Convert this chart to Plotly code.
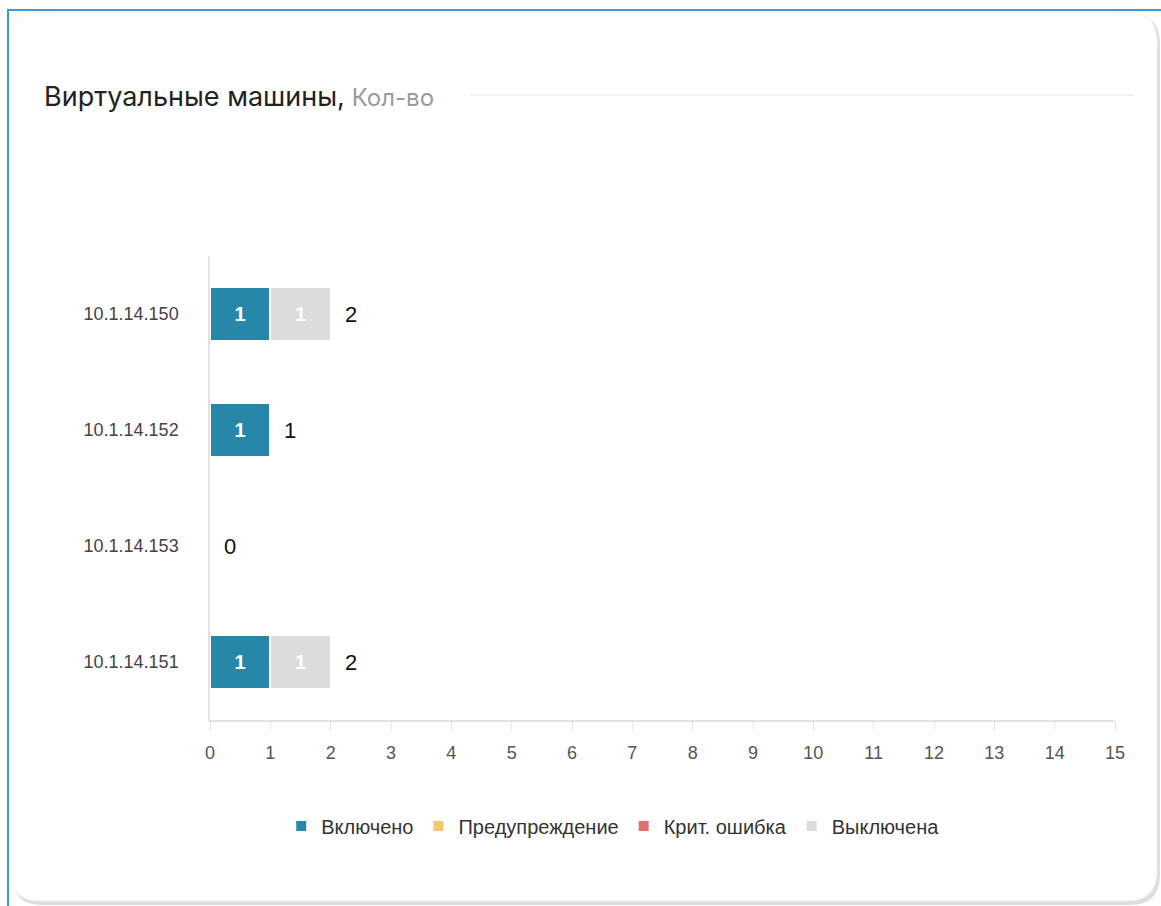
import plotly.graph_objects as go

hosts = ["10.1.14.150", "10.1.14.152", "10.1.14.153", "10.1.14.151"]
series_names = ["Включено", "Предупреждение", "Крит. ошибка", "Выключена"]
vals_on = [1, 1, 0, 1]
vals_warn = [0, 0, 0, 0]
vals_crit = [0, 0, 0, 0]
vals_off = [1, 0, 0, 1]
x_ticks = list(range(0, 16))
colors = ["#2787a9", "#f6c56f", "#e0706b", "#dcdcdc"]

W, H = 1161, 906
L, R, T, B = 210, 1115, 256, 720

def px(x):
    return (x - L) / (R - L)

def py(y):
    return (B - y) / (B - T)

fig = go.Figure()
all_vals = [vals_on, vals_warn, vals_crit, vals_off]
for name, vals, col in zip(series_names, all_vals, colors):
    fig.add_trace(go.Bar(
        y=hosts, x=vals, name=name, orientation="h",
        marker=dict(color=col, line=dict(color="white", width=2)),
        text=[str(v) if v > 0 else "" for v in vals],
        textposition="inside", insidetextanchor="middle",
        textfont=dict(color="white", size=20, family="Liberation Sans"),
        texttemplate="<b>%{text}</b>",
        width=0.47, hoverinfo="x+y+name",
    ))

totals = [a + b + c + d for a, b, c, d in zip(*all_vals)]
annotations = []
for h, t in zip(hosts, totals):
    annotations.append(dict(
        x=t, y=h, xref="x", yref="y", text=str(t), showarrow=False,
        xanchor="left", yanchor="middle", xshift=12,
        font=dict(size=22, color="#111", family="Liberation Sans"),
    ))

shapes = []
def rrect(x0, y0, x1, y1, r):
    return (f"M {px(x0+r)},{py(y0)} L {px(x1-r)},{py(y0)} "
            f"Q {px(x1)},{py(y0)} {px(x1)},{py(y0+r)} "
            f"L {px(x1)},{py(y1-r)} Q {px(x1)},{py(y1)} {px(x1-r)},{py(y1)} "
            f"L {px(x0+r)},{py(y1)} Q {px(x0)},{py(y1)} {px(x0)},{py(y1-r)} "
            f"L {px(x0)},{py(y0+r)} Q {px(x0)},{py(y0)} {px(x0+r)},{py(y0)} Z")

shapes.append(dict(type="path", xref="paper", yref="paper", layer="below",
                   path=rrect(12, 14, 1160, 905, 30),
                   fillcolor="#dedede", line=dict(width=0)))
shapes.append(dict(type="path", xref="paper", yref="paper", layer="below",
                   path=rrect(10, 12, 1157, 901, 30),
                   fillcolor="white", line=dict(color="#f0f0f0", width=1)))
shapes.append(dict(type="line", xref="paper", yref="paper",
                   x0=px(8), x1=px(8), y0=py(9), y1=py(906),
                   line=dict(color="#3a9ad9", width=2)))
shapes.append(dict(type="line", xref="paper", yref="paper",
                   x0=px(8), x1=px(1161), y0=py(10), y1=py(10),
                   line=dict(color="#3a9ad9", width=2)))
shapes.append(dict(type="line", xref="paper", yref="paper",
                   x0=px(470), x1=px(1135), y0=py(95), y1=py(95),
                   line=dict(color="#ececec", width=1.5)))

fig.update_layout(
    width=W, height=H,
    margin=dict(l=L, r=W - R, t=T, b=H - B),
    paper_bgcolor="white", plot_bgcolor="white",
    barmode="stack",
    shapes=shapes,
    annotations=annotations,
    title=dict(
        text="Виртуальные машины,<span style='color:#9a9a9a;font-size:24px'> Кол-во</span>",
        x=44 / W, xanchor="left", xref="container",
        y=1 - 97 / H, yanchor="middle", yref="container",
        font=dict(family="Inter", size=27, color="#222"),
    ),
    xaxis=dict(
        range=[0, 15], tickvals=x_ticks, ticktext=[str(t) for t in x_ticks],
        showgrid=False, zeroline=False,
        showline=True, linecolor="#e3e3e3", linewidth=1.5,
        ticks="outside", ticklen=8, tickcolor="#e3e3e3", tickwidth=1,
        tickfont=dict(family="Liberation Sans", size=18, color="#555"),
        ticklabelstandoff=8, fixedrange=True,
    ),
    yaxis=dict(
        categoryorder="array", categoryarray=hosts, autorange="reversed",
        showgrid=False, zeroline=False,
        showline=True, linecolor="#e3e3e3", linewidth=1.5,
        ticks="", tickfont=dict(family="Liberation Sans", size=18, color="#444"),
        ticklabelstandoff=26, fixedrange=True,
    ),
    legend=dict(
        orientation="h", x=0.445, xanchor="center", y=py(826), yanchor="middle",
        font=dict(family="Liberation Sans", size=20, color="#333"),
        itemwidth=30, traceorder="normal", itemclick=False,
    ),
    showlegend=True,
)

fig.write_html("out.html", config={"displayModeBar": False},
               post_script="document.body.style.margin='0';")
